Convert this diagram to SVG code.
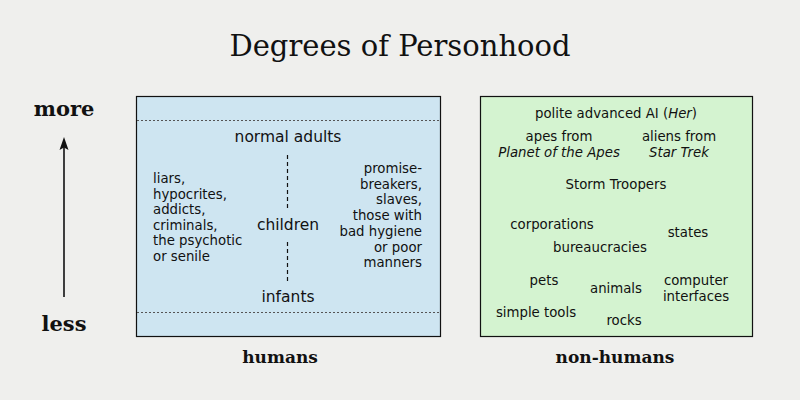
<svg xmlns="http://www.w3.org/2000/svg" width="800" height="400" viewBox="0 0 800 400">
<style>
.title{font-family:"DejaVu Serif","Liberation Serif",serif;font-size:29px;fill:#111}
.axis{font-family:"DejaVu Serif","Liberation Serif",serif;font-weight:bold;font-size:21px;fill:#111}
.cap{font-family:"DejaVu Serif","Liberation Serif",serif;font-weight:bold;font-size:17px;fill:#111}
.big{font-family:"DejaVu Sans","Verdana",sans-serif;font-size:15.5px;fill:#111;text-anchor:middle}
.sm{font-family:"DejaVu Sans","Verdana",sans-serif;font-size:13.3px;fill:#111}
.c{text-anchor:middle}
.r{text-anchor:end}
.box{stroke:#111;stroke-width:1.2}
.dot{stroke:#555;stroke-width:1;stroke-dasharray:2 2;fill:none}
.dash{stroke:#111;stroke-width:1.2;stroke-dasharray:4 3;fill:none}
</style>
<defs>
<marker id="ah" viewBox="0 0 10 14" refX="5" refY="1" markerWidth="10" markerHeight="14" markerUnits="userSpaceOnUse" orient="0">
<path d="M5,0 L9.5,13 L5,10.5 L0.5,13 Z" fill="#111"/>
</marker>
</defs>
<rect width="800" height="400" fill="#efefed"/>
<text class="title" x="400" y="56" text-anchor="middle">Degrees of Personhood</text>
<g id="axis">
<text class="axis" x="64" y="116" text-anchor="middle">more</text>
<text class="axis" x="64" y="331" text-anchor="middle">less</text>
</g>
<g id="connectors">
<line x1="64" y1="297" x2="64" y2="140" stroke="#111" stroke-width="1.6"/>
<path d="M64,137 L68.5,150 L64,147.5 L59.5,150 Z" fill="#111"/>
</g>
<g id="humans">
<rect class="box" x="136.5" y="96.5" width="304" height="240" fill="#cee5f1"/>
<line class="dot" x1="137" y1="120.5" x2="440" y2="120.5"/>
<line class="dot" x1="137" y1="312.5" x2="440" y2="312.5"/>
<line class="dash" x1="287.5" y1="155" x2="287.5" y2="208"/>
<line class="dash" x1="287.5" y1="242" x2="287.5" y2="282"/>
<text class="big" x="288" y="142">normal adults</text>
<text class="big" x="288" y="230">children</text>
<text class="big" x="288" y="302">infants</text>
<text class="sm" x="153" y="183">liars,<tspan x="153" dy="15.6">hypocrites,</tspan><tspan x="153" dy="15.6">addicts,</tspan><tspan x="153" dy="15.6">criminals,</tspan><tspan x="153" dy="15.6">the psychotic</tspan><tspan x="153" dy="15.6">or senile</tspan></text>
<text class="sm r" x="422" y="173">promise-<tspan x="422" dy="15.7">breakers,</tspan><tspan x="422" dy="15.7">slaves,</tspan><tspan x="422" dy="15.7">those with</tspan><tspan x="422" dy="15.7">bad hygiene</tspan><tspan x="422" dy="15.7">or poor</tspan><tspan x="422" dy="15.7">manners</tspan></text>
<text class="cap" x="280" y="363" text-anchor="middle">humans</text>
</g>
<g id="nonhumans">
<rect class="box" x="480.5" y="96.5" width="272" height="240" fill="#d4f3d0"/>
<text class="sm c" x="616" y="118">polite advanced AI (<tspan font-style="italic">Her</tspan>)</text>
<text class="sm c" x="559" y="141">apes from<tspan x="559" dy="16" font-style="italic">Planet of the Apes</tspan></text>
<text class="sm c" x="679" y="141">aliens from<tspan x="679" dy="16" font-style="italic">Star Trek</tspan></text>
<text class="sm c" x="616" y="189">Storm Troopers</text>
<text class="sm c" x="552" y="229">corporations</text>
<text class="sm c" x="688" y="237">states</text>
<text class="sm c" x="600" y="252">bureaucracies</text>
<text class="sm c" x="544" y="285">pets</text>
<text class="sm c" x="616" y="293">animals</text>
<text class="sm c" x="696" y="285">computer<tspan x="696" dy="15.5">interfaces</tspan></text>
<text class="sm c" x="536" y="317">simple tools</text>
<text class="sm c" x="624" y="325">rocks</text>
<text class="cap" x="615" y="363" text-anchor="middle">non-humans</text>
</g>
</svg>
